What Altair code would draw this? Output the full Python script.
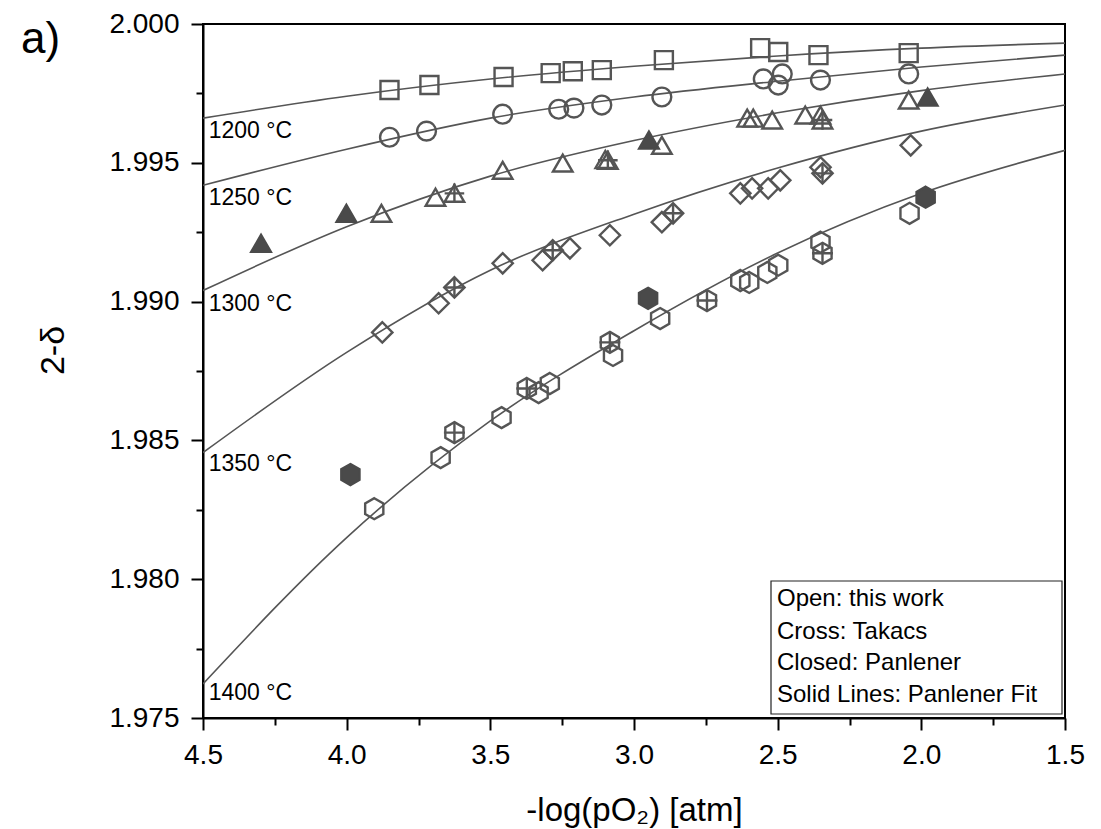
import altair as alt
import pandas as pd

FONT = "Liberation Sans"
GREY = "#555555"
DARK = "#4a4a4a"
HEX = "M0,-1L0.866,-0.5L0.866,0.5L0,1L-0.866,0.5L-0.866,-0.5Z"
PLUS = "M0,-1L0,1M-1,0L1,0"

temps = ["1200", "1250", "1300", "1350", "1400"]
shapes = ["square", "circle", "triangle-up", "diamond", HEX]
sizes = [324, 441, 700, 625, 580]

# ---- Panlener fit curves ----
fit_x = [4.5, 4.0, 3.5, 3.0, 2.5, 2.0, 1.5]
fit_1200 = [1.99661, 1.99740, 1.99802, 1.99848, 1.99885, 1.99913, 1.99931]
fit_1250 = [1.99419, 1.99549, 1.99661, 1.99737, 1.99794, 1.99845, 1.99888]
fit_1300 = [1.99040, 1.99270, 1.99452, 1.99580, 1.99680, 1.99760, 1.99820]
fit_1350 = [1.98456, 1.98817, 1.99113, 1.99315, 1.99481, 1.99614, 1.99708]
fit_1400 = [1.97623, 1.98150, 1.98570, 1.98895, 1.99175, 1.99390, 1.99545]

# ---- this work (open symbols) ----
open_1200_x = [3.851, 3.712, 3.454, 3.290, 3.213, 3.112, 2.896, 2.561, 2.498, 2.358, 2.044]
open_1200_y = [1.99762, 1.99780, 1.99809, 1.99823, 1.99830, 1.99834, 1.99870, 1.99913, 1.99899, 1.99888, 1.99895]
open_1250_x = [3.851, 3.722, 3.457, 3.262, 3.209, 3.112, 2.903, 2.550, 2.498, 2.484, 2.351, 2.044]
open_1250_y = [1.99592, 1.99614, 1.99675, 1.99693, 1.99697, 1.99708, 1.99737, 1.99802, 1.99780, 1.99820, 1.99798, 1.99820]
open_1300_x = [3.879, 3.691, 3.457, 3.248, 3.100, 2.903, 2.606, 2.585, 2.519, 2.404, 2.351, 2.044]
open_1300_y = [1.99318, 1.99376, 1.99473, 1.99499, 1.99512, 1.99563, 1.99661, 1.99661, 1.99654, 1.99672, 1.99672, 1.99726]
open_1350_x = [3.876, 3.680, 3.457, 3.318, 3.223, 3.084, 2.903, 2.630, 2.589, 2.533, 2.491, 2.351, 2.037]
open_1350_y = [1.98889, 1.98994, 1.99138, 1.99149, 1.99192, 1.99239, 1.99286, 1.99390, 1.99408, 1.99408, 1.99437, 1.99484, 1.99563]
open_1400_x = [3.904, 3.673, 3.461, 3.332, 3.293, 3.073, 2.909, 2.630, 2.599, 2.536, 2.498, 2.351, 2.041]
open_1400_y = [1.98254, 1.98438, 1.98582, 1.98672, 1.98705, 1.98806, 1.98939, 1.99076, 1.99069, 1.99105, 1.99131, 1.99214, 1.99318]

# ---- Takacs (crossed symbols) ----
cross_1300_x = [3.625, 3.091, 2.344]
cross_1300_y = [1.99390, 1.99509, 1.99654]
cross_1350_x = [3.625, 3.283, 2.864, 2.344]
cross_1350_y = [1.99051, 1.99185, 1.99318, 1.99462]
cross_1400_x = [3.625, 3.373, 3.084, 2.746, 2.344]
cross_1400_y = [1.98528, 1.98687, 1.98853, 1.99004, 1.99174]

# ---- Panlener (closed symbols) ----
closed_1300_x = [4.298, 4.001, 2.948, 1.978]
closed_1300_y = [1.99210, 1.99318, 1.99582, 1.99737]
closed_1400_x = [3.987, 2.951, 1.985]
closed_1400_y = [1.98377, 1.99012, 1.99376]

# ---- curve labels ----
label_text = ["1200 °C", "1250 °C", "1300 °C", "1350 °C", "1400 °C"]
label_x = [4.48, 4.48, 4.48, 4.48, 4.48]
label_y = [1.99615, 1.99373, 1.98991, 1.98415, 1.97590]

legend_lines = ["Open: this work", "Cross: Takacs", "Closed: Panlener", "Solid Lines: Panlener Fit"]

x_ticks = [4.5, 4.25, 4.0, 3.75, 3.5, 3.25, 3.0, 2.75, 2.5, 2.25, 2.0, 1.75, 1.5]
y_ticks = [1.975, 1.9775, 1.98, 1.9825, 1.985, 1.9875, 1.99, 1.9925, 1.995, 1.9975, 2.0]


def rows(xs, ys, t):
    return [{"x": a, "y": b, "temp": t} for a, b in zip(xs, ys)]


fit_df = pd.DataFrame(
    rows(fit_x, fit_1200, "1200") + rows(fit_x, fit_1250, "1250") + rows(fit_x, fit_1300, "1300")
    + rows(fit_x, fit_1350, "1350") + rows(fit_x, fit_1400, "1400")
)
open_df = pd.DataFrame(
    rows(open_1200_x, open_1200_y, "1200") + rows(open_1250_x, open_1250_y, "1250")
    + rows(open_1300_x, open_1300_y, "1300") + rows(open_1350_x, open_1350_y, "1350")
    + rows(open_1400_x, open_1400_y, "1400")
)
cross_df = pd.DataFrame(
    rows(cross_1300_x, cross_1300_y, "1300") + rows(cross_1350_x, cross_1350_y, "1350")
    + rows(cross_1400_x, cross_1400_y, "1400")
)
closed_df = pd.DataFrame(
    rows(closed_1300_x, closed_1300_y, "1300") + rows(closed_1400_x, closed_1400_y, "1400")
)
lab_df = pd.DataFrame({"x": label_x, "y": label_y, "label": label_text})
leg_df = pd.DataFrame({"text": legend_lines, "py": [575, 608, 639, 671]})

x_axis = alt.Axis(
    values=x_ticks,
    labelExpr="(abs(datum.value*2 - round(datum.value*2)) < 0.1) ? format(datum.value, '.1f') : ''",
    tickSize={"condition": {"test": "abs(datum.value*2 - round(datum.value*2)) > 0.1", "value": 7}, "value": 12},
    labelFontSize=28, labelPadding=11, labelFlush=False, labelOverlap=False,
    title="-log(pO₂) [atm]", titleFontSize=33, titleFontWeight="normal",
    titleX=431, titleY=102, titleAlign="center", titleBaseline="alphabetic",
    grid=False, domainColor="black", domainWidth=2, tickColor="black", tickWidth=2,
    labelColor="black", titleColor="black",
)
y_axis = alt.Axis(
    values=y_ticks,
    labelExpr="(abs(datum.value*200 - round(datum.value*200)) < 0.1) ? format(datum.value, '.3f') : ''",
    tickSize={"condition": {"test": "abs(datum.value*200 - round(datum.value*200)) > 0.1", "value": 7}, "value": 12},
    labelFontSize=28, labelPadding=12, labelFlush=False, labelOverlap=False,
    title="2-δ", titleFontSize=34, titleFontWeight="normal",
    titleX=-150, titleY=326, titleAlign="center", titleBaseline="middle", titleAngle=270,
    grid=False, domainColor="black", domainWidth=2, tickColor="black", tickWidth=2,
    labelColor="black", titleColor="black",
)

xs = alt.Scale(domain=[1.5, 4.5], reverse=True, nice=False, zero=False)
ys = alt.Scale(domain=[1.975, 2.0], nice=False, zero=False)
X = alt.X("x:Q", scale=xs, axis=x_axis)
Y = alt.Y("y:Q", scale=ys, axis=y_axis)
SHAPE = alt.Shape("temp:N", scale=alt.Scale(domain=temps, range=shapes), legend=None)
SIZE = alt.Size("temp:N", scale=alt.Scale(domain=temps, range=sizes), legend=None)

lines = alt.Chart(fit_df).mark_line(color=GREY, strokeWidth=1.6, interpolate="monotone", clip=True).encode(
    x=X, y=Y, detail="temp:N"
)
open_pts = alt.Chart(open_df).mark_point(filled=False, color=GREY, strokeWidth=2.4, opacity=1).encode(
    x=X, y=Y, shape=SHAPE, size=SIZE
)
cross_pts = alt.Chart(cross_df).mark_point(filled=False, color=GREY, strokeWidth=2.4, opacity=1).encode(
    x=X, y=Y, shape=SHAPE, size=SIZE
)
cross_plus = alt.Chart(cross_df).mark_point(filled=False, color=GREY, strokeWidth=2.4, opacity=1, shape=PLUS).encode(
    x=X, y=Y, size=SIZE
)
closed_pts = alt.Chart(closed_df).mark_point(
    filled=True, fill=DARK, stroke=DARK, strokeWidth=2.4, opacity=1
).encode(x=X, y=Y, shape=SHAPE, size=SIZE)
labels = alt.Chart(lab_df).mark_text(align="left", baseline="middle", fontSize=23, font=FONT, color="black").encode(
    x=X, y=Y, text="label:N"
)
leg_box = alt.Chart(pd.DataFrame({"k": [0]})).mark_rect(
    fill="white", stroke="#222222", strokeWidth=1.2
).encode(x=alt.value(568), x2=alt.value(859), y=alt.value(557), y2=alt.value(690))
leg_text = alt.Chart(leg_df).mark_text(align="left", baseline="middle", fontSize=24, font=FONT, color="black").encode(
    x=alt.value(574), y=alt.Y("py:Q", scale=None), text="text:N"
)
panel = alt.Chart(pd.DataFrame({"t": ["a)"]})).mark_text(
    align="left", baseline="alphabetic", fontSize=44, font=FONT, color="black"
).encode(x=alt.value(-182), y=alt.value(29), text="t:N")

chart = alt.layer(
    lines, open_pts, cross_pts, cross_plus, closed_pts, labels, leg_box, leg_text, panel
).properties(
    width=862, height=694,
    autosize=alt.AutoSizeParams(type="none"),
    padding={"left": 203, "top": 24, "right": 36, "bottom": 111},
).configure(font=FONT).configure_view(stroke="black", strokeWidth=2)

chart.save("out.html", embed_options={"renderer": "svg", "actions": False})
